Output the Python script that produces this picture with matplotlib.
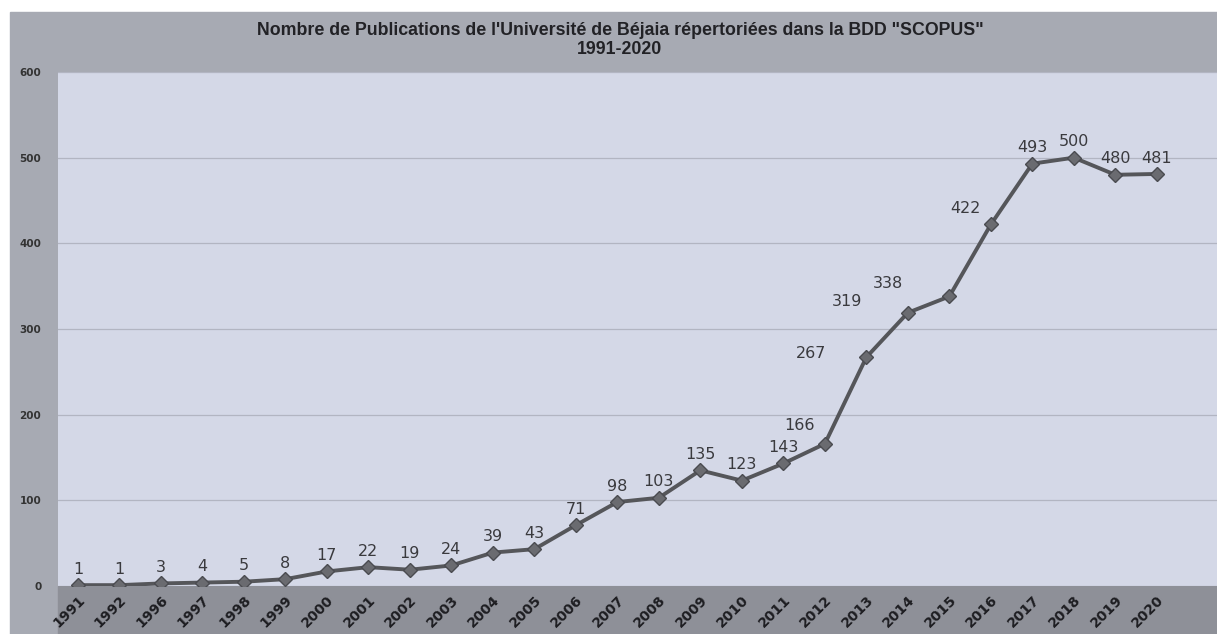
import matplotlib
matplotlib.use("Agg")
import matplotlib.pyplot as plt
from matplotlib.patches import Rectangle
from matplotlib.transforms import ScaledTranslation

YEARS = ["1991", "1992", "1996", "1997", "1998", "1999", "2000", "2001", "2002",
         "2003", "2004", "2005", "2006", "2007", "2008", "2009", "2010", "2011",
         "2012", "2013", "2014", "2015", "2016", "2017", "2018", "2019", "2020"]
PUBLICATIONS = [1, 1, 3, 4, 5, 8, 17, 22, 19, 24, 39, 43, 71, 98, 103, 135, 123,
                143, 166, 267, 319, 338, 422, 493, 500, 480, 481]
Y_TICKS = [0, 100, 200, 300, 400, 500, 600]

TITLE = ("Nombre de Publications de l'Université de Béjaia répertoriées dans la BDD \"SCOPUS\"\n"
         "1991-2020")

# label offsets (points) for the steep part of the curve, Excel put them to the left
LABEL_SHIFT = {"2012": (-18, 8), "2013": (-40, -3), "2014": (-44, 3),
               "2015": (-44, 4), "2016": (-18, 6)}

W, H = 1217, 634
fig = plt.figure(figsize=(W / 100, H / 100), dpi=100)
fig.patch.set_facecolor("white")

# scanned page: gray chart frame with a darker band under the axis
fig.patches.append(Rectangle((10 / W, 0), 1 - 10 / W, 1 - 12 / H,
                             transform=fig.transFigure, color="#a7aab3", zorder=-2))
fig.patches.append(Rectangle((58 / W, 0), 1 - 58 / W, 48 / H,
                             transform=fig.transFigure, color="#8e9098", zorder=-1))

ax = fig.add_axes([58 / W, 48 / H, 1 - 58 / W, (586 - 72) / H])
ax.set_facecolor("#d4d8e7")
x = list(range(len(YEARS)))
ax.plot(x, PUBLICATIONS, color="#55565a", lw=2.8, marker="D", ms=7.5,
        markerfacecolor="#6a6b70", markeredgecolor="#4a4b50", zorder=3)

for i, (yr, v) in enumerate(zip(YEARS, PUBLICATIONS)):
    dx, dy = LABEL_SHIFT.get(yr, (0, 6))
    ax.annotate(str(v), (i, v), xytext=(dx, dy), textcoords="offset points",
                ha="center", va="bottom", fontsize=11.5, color="#3a3a3e",
                family="DejaVu Sans", fontweight="medium")

ax.set_xlim(-0.48, 27.45)
ax.set_ylim(0, 600)
ax.set_yticks(Y_TICKS)
ax.set_yticklabels([str(t) for t in Y_TICKS], fontsize=7.5, fontweight="bold",
                   color="#333333", family="DejaVu Sans")
ax.set_xticks(x)
ax.set_xticklabels(YEARS, rotation=45, ha="right", rotation_mode="anchor",
                   fontsize=10, fontweight="bold", color="#1e1e22",
                   family="DejaVu Sans")
shift = ScaledTranslation(6 / 100, 0, fig.dpi_scale_trans)
for lab in ax.get_xticklabels():
    lab.set_transform(lab.get_transform() + shift)
ax.tick_params(axis="both", length=0)
ax.tick_params(axis="y", pad=12)
ax.tick_params(axis="x", pad=5)
ax.grid(axis="y", color="#b2b5c2", lw=0.9)
ax.set_axisbelow(True)
for s in ax.spines.values():
    s.set_visible(False)

fig.text(620 / W, 1 - 22 / H, TITLE, ha="center", va="top", fontsize=12.8,
         fontweight="bold", color="#222226", family="Liberation Sans",
         linespacing=1.15)

fig.savefig("out.png", dpi=100)
